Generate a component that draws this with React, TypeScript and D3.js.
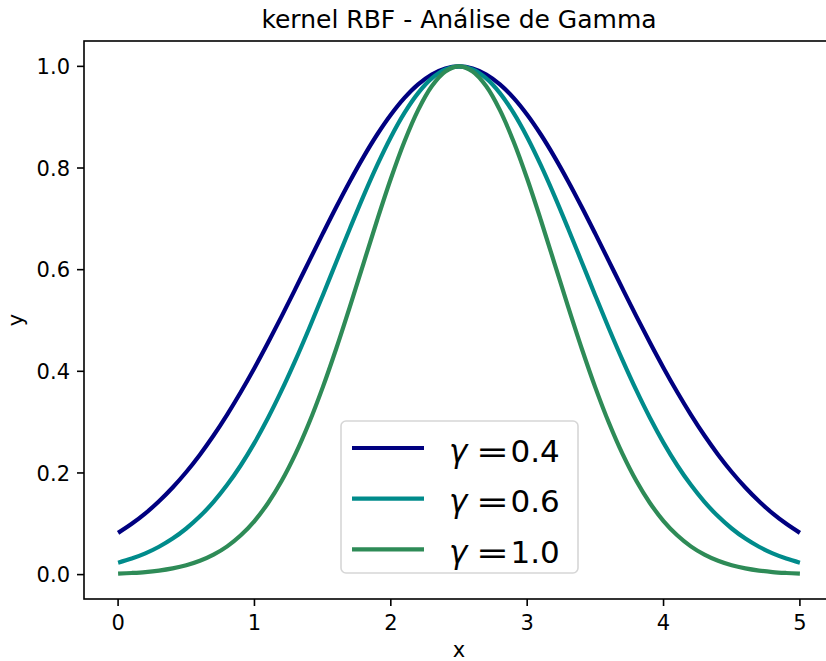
import React from "react";
import * as d3 from "d3";

const xValues = [
  0.0, 0.1, 0.2, 0.3, 0.4, 0.5, 0.6, 0.7, 0.8, 0.9,
  1.0, 1.1, 1.2, 1.3, 1.4, 1.5, 1.6, 1.7, 1.8, 1.9,
  2.0, 2.1, 2.2, 2.3, 2.4, 2.5, 2.6, 2.7, 2.8, 2.9,
  3.0, 3.1, 3.2, 3.3, 3.4, 3.5, 3.6, 3.7, 3.8, 3.9,
  4.0, 4.1, 4.2, 4.3, 4.4, 4.5, 4.6, 4.7, 4.8, 4.9, 5.0,
];

const gamma04 = [
  0.0821, 0.0999, 0.1205, 0.1443, 0.1714, 0.2019, 0.2360, 0.2736, 0.3148, 0.3592,
  0.4066, 0.4566, 0.5086, 0.5621, 0.6163, 0.6703, 0.7233, 0.7741, 0.8220, 0.8659,
  0.9048, 0.9380, 0.9646, 0.9841, 0.9960, 1.0000, 0.9960, 0.9841, 0.9646, 0.9380,
  0.9048, 0.8659, 0.8220, 0.7741, 0.7233, 0.6703, 0.6163, 0.5621, 0.5086, 0.4566,
  0.4066, 0.3592, 0.3148, 0.2736, 0.2360, 0.2019, 0.1714, 0.1443, 0.1205, 0.0999, 0.0821,
];

const gamma06 = [
  0.0235, 0.0316, 0.0418, 0.0548, 0.0709, 0.0907, 0.1146, 0.1431, 0.1766, 0.2152,
  0.2592, 0.3085, 0.3628, 0.4215, 0.4838, 0.5488, 0.6151, 0.6811, 0.7453, 0.8057,
  0.8607, 0.9085, 0.9474, 0.9763, 0.9940, 1.0000, 0.9940, 0.9763, 0.9474, 0.9085,
  0.8607, 0.8057, 0.7453, 0.6811, 0.6151, 0.5488, 0.4838, 0.4215, 0.3628, 0.3085,
  0.2592, 0.2152, 0.1766, 0.1431, 0.1146, 0.0907, 0.0709, 0.0548, 0.0418, 0.0316, 0.0235,
];

const gamma10 = [
  0.0019, 0.0032, 0.0050, 0.0079, 0.0122, 0.0183, 0.0271, 0.0392, 0.0556, 0.0773,
  0.1054, 0.1409, 0.1845, 0.2369, 0.2982, 0.3679, 0.4449, 0.5273, 0.6126, 0.6977,
  0.7788, 0.8521, 0.9139, 0.9608, 0.9900, 1.0000, 0.9900, 0.9608, 0.9139, 0.8521,
  0.7788, 0.6977, 0.6126, 0.5273, 0.4449, 0.3679, 0.2982, 0.2369, 0.1845, 0.1409,
  0.1054, 0.0773, 0.0556, 0.0392, 0.0271, 0.0183, 0.0122, 0.0079, 0.0050, 0.0032, 0.0019,
];

const seriesLabels = ["0.4", "0.6", "1.0"];
const seriesColors = ["#000080", "#008b8b", "#2e8b57"];
const xTicks = [0, 1, 2, 3, 4, 5];
const yTicks = [0.0, 0.2, 0.4, 0.6, 0.8, 1.0];
const titleText = "kernel RBF - Análise de Gamma";
const xLabel = "x";
const yLabel = "y";

const W = 826;
const H = 661;
const left = 84;
const right = 834;
const top = 41;
const bottom = 599;
const FONT = "DejaVu Sans, Verdana, sans-serif";

export default function App() {
  const allSeries = [gamma04, gamma06, gamma10];
  const allY = allSeries.flat();
  const xMin = d3.min(xValues) as number;
  const xMax = d3.max(xValues) as number;
  const yMin = d3.min(allY) as number;
  const yMax = d3.max(allY) as number;
  const xPad = (xMax - xMin) * 0.05;
  const yPad = (yMax - yMin) * 0.05;

  const x = d3.scaleLinear().domain([xMin - xPad, xMax + xPad]).range([left, right]);
  const y = d3.scaleLinear().domain([yMin - yPad, yMax + yPad]).range([bottom, top]);

  const line = d3
    .line<number>()
    .x((_, i) => x(xValues[i]))
    .y((d) => y(d))
    .curve(d3.curveCatmullRom);

  const cx = (left + right) / 2;

  // legend geometry
  const lgX = 341;
  const lgY = 421;
  const lgW = 237;
  const lgH = 152;
  const rowY0 = 448;
  const rowGap = 50.7;

  return (
    <svg
      width={W}
      height={H}
      viewBox={`0 0 ${W} ${H}`}
      style={{ position: "absolute", left: 0, top: 0, background: "#fff" }}
      fontFamily={FONT}
    >
      <rect x={0} y={0} width={W} height={H} fill="#fff" />
      <defs>
        <clipPath id="plotclip">
          <rect x={left} y={top} width={right - left} height={bottom - top} />
        </clipPath>
      </defs>

      <g clipPath="url(#plotclip)">
        {allSeries.map((s, i) => (
          <path
            key={i}
            d={line(s) || ""}
            fill="none"
            stroke={seriesColors[i]}
            strokeWidth={4.2}
            strokeLinejoin="round"
          />
        ))}
      </g>

      {/* spines */}
      <g stroke="#000" strokeWidth={1.6} fill="none">
        <rect x={left} y={top} width={right - left} height={bottom - top} />
      </g>

      {/* x ticks */}
      {xTicks.map((t) => (
        <g key={"xt" + t}>
          <line x1={x(t)} x2={x(t)} y1={bottom} y2={bottom + 7} stroke="#000" strokeWidth={1.6} />
          <text x={x(t)} y={630} textAnchor="middle" fontSize={21} fill="#000">
            {String(t)}
          </text>
        </g>
      ))}

      {/* y ticks */}
      {yTicks.map((t) => (
        <g key={"yt" + t}>
          <line x1={left - 7} x2={left} y1={y(t)} y2={y(t)} stroke="#000" strokeWidth={1.6} />
          <text x={70} y={y(t) + 7.6} textAnchor="end" fontSize={21} fill="#000">
            {t.toFixed(1)}
          </text>
        </g>
      ))}

      {/* axis labels */}
      <text x={cx} y={657} textAnchor="middle" fontSize={21} fill="#000">
        {xLabel}
      </text>
      <text
        transform={`translate(23, ${(top + bottom) / 2}) rotate(-90)`}
        textAnchor="middle"
        fontSize={21}
        fill="#000"
      >
        {yLabel}
      </text>

      {/* title */}
      <text x={cx} y={28} textAnchor="middle" fontSize={25} fill="#000">
        {titleText}
      </text>

      {/* legend */}
      <rect
        x={lgX}
        y={lgY}
        width={lgW}
        height={lgH}
        rx={5}
        fill="#fff"
        fillOpacity={0.8}
        stroke="#d6d6d6"
        strokeWidth={1.6}
      />
      {seriesLabels.map((lab, i) => {
        const ry = rowY0 + i * rowGap;
        return (
          <g key={"lg" + i}>
            <line x1={352} x2={424} y1={ry} y2={ry} stroke={seriesColors[i]} strokeWidth={4.2} />
            <text x={449} y={ry + 13.5} fontSize={31} fontStyle="italic" fill="#000">
              γ
            </text>
            <text
              x={476}
              y={ry + 13.5}
              fontSize={31}
              fill="#000"
              textLength={33}
              lengthAdjust="spacingAndGlyphs"
            >
              =
            </text>
            <text x={510.5} y={ry + 13.5} fontSize={31} fill="#000">
              {lab}
            </text>
          </g>
        );
      })}
    </svg>
  );
}
